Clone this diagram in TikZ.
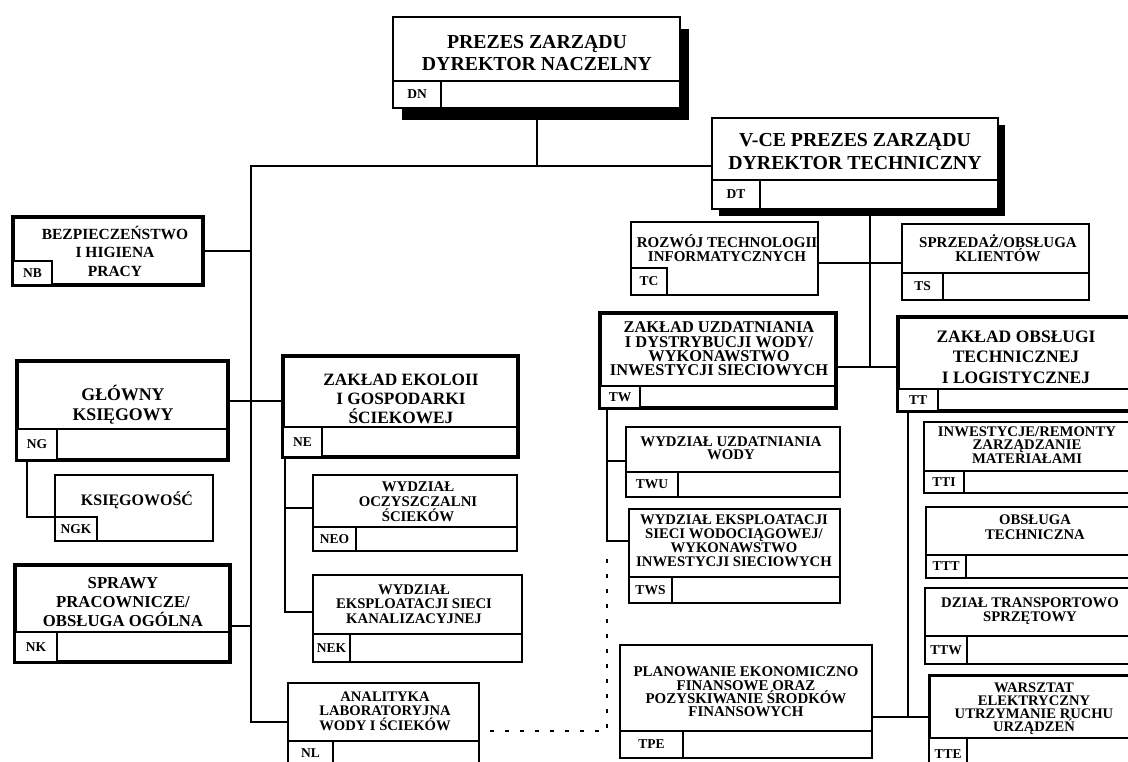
\documentclass[tikz,border=0pt]{standalone}
\usepackage{fontspec}
\setmainfont{Liberation Serif}
\usetikzlibrary{shadows}
\newcommand{\fsz}[2]{\fontsize{#1}{#2}\selectfont\bfseries}
\tikzset{
  unit/.style={draw, fill=white, anchor=north west, inner sep=0pt, outer sep=0pt},
  cell/.style={draw, fill=white, line width=2pt, anchor=south west, inner sep=0pt, outer sep=0pt, font=\fsz{13.5}{14}},
  sep/.style={line width=2pt},
  title/.style={align=center, inner sep=0pt},
  link/.style={line width=2pt},
  dots/.style={line width=2pt, dash pattern=on 4pt off 11pt, dash phase=4pt},
}
\begin{document}
\begin{tikzpicture}[x=1pt, y=-1pt]
  \fill[white] (0,0) rectangle (1128,761);
  \useasboundingbox (0,0) rectangle (1128,761);
  \clip (0,0) rectangle (1128,761);
  % boxes: name/left/top/width/height/border/cell height/cell width/code/full separator/shadow
  \foreach \n/\x/\y/\w/\h/\lw/\ch/\cw/\code/\full/\sx/\sy in {
    dn/393/17/287/91/2/27/48/DN/1/9/12,
    dt/712/118/286/91/2/29/48/DT/1/7/7,
    nb/13/217/190/68/4/24/39/NB/0/0/0,
    ng/17/361/211/99/4/31/40/NG/1/0/0,
    ngk/55/475/158/66/2/24/42/NGK/0/0/0,
    nk/15/565/215/97/4/30/42/NK/1/0/0,
    ne/283/356/235/101/4/30/39/NE/1/0/0,
    neo/313/475/204/76/2/24/43/NEO/1/0/0,
    nek/313/575/209/87/2/28/37/NEK/1/0/0,
    nl/288/683/191/82/2/24/45/NL/1/0/0,
    tc/631/222/187/73/2/27/36/TC/0/0/0,
    ts/902/224/187/76/2/27/41/TS/1/0/0,
    tw/600/313/236/95/4/22/40/TW/1/0/0,
    tt/898/317/240/94/4/22/40/TT/1/0/0,
    twu/626/427/214/70/2/25/52/TWU/1/0/0,
    tws/629/509/211/94/2/26/43/TWS/1/0/0,
    tti/924/422/216/71/2/22/40/TTI/1/0/0,
    ttt/926/507/214/71/2/23/40/TTT/1/0/0,
    ttw/925/588/215/76/2/28/42/TTW/1/0/0,
    tte/929/675/211/95/3/32/38/TTE/1/0/0,
    tpe/620/645/252/113/2/27/63/TPE/1/0/0} {
    \node[unit, line width=\lw pt, minimum width=\w pt, minimum height=\h pt,
      drop shadow={opacity=1, fill=black, shadow xshift=\sx pt, shadow yshift=-\sy pt}] (\n) at (\x,\y) {};
    \node[cell, minimum width=\cw pt, minimum height=\ch pt] (\n-c) at (\n.south west) {\code};
    \ifnum\full=1 \draw[sep] (\n-c.north west) -- (\n-c.north -| \n.east); \fi
  }
  % texts
  \node[title, font=\fsz{19.8}{21.5}] (dn-t) at (537,53) {PREZES ZARZĄDU\\DYREKTOR NACZELNY};
  \node[title, font=\fsz{19.8}{23}] (dt-t) at (855,152) {V-CE PREZES ZARZĄDU\\DYREKTOR TECHNICZNY};
  \node[title, font=\fsz{15.5}{18.5}] (nb-t) at (115,251) {BEZPIECZEŃSTWO\\I HIGIENA\\PRACY};
  \node[title, font=\fsz{17.8}{20}] (ng-t) at (123,405) {GŁÓWNY\\KSIĘGOWY};
  \node[title, font=\fsz{16}{18}] (ngk-t) at (137,500) {KSIĘGOWOŚĆ};
  \node[title, font=\fsz{16.7}{19}] (nk-t) at (123,602) {SPRAWY\\PRACOWNICZE/\\OBSŁUGA OGÓLNA};
  \node[title, font=\fsz{17.3}{19}] (ne-t) at (401,399) {ZAKŁAD EKOLOII\\I GOSPODARKI\\ŚCIEKOWEJ};
  \node[title, font=\fsz{14.8}{15}] (neo-t) at (418,502) {WYDZIAŁ\\OCZYSZCZALNI\\ŚCIEKÓW};
  \node[title, font=\fsz{14.7}{14.5}] (nek-t) at (414,604) {WYDZIAŁ\\EKSPLOATACJI SIECI\\KANALIZACYJNEJ};
  \node[title, font=\fsz{14.6}{14.5}] (nl-t) at (385,711) {ANALITYKA\\LABORATORYJNA\\WODY I ŚCIEKÓW};
  \node[title, font=\fsz{15}{14}] (tc-t) at (727,248) {ROZWÓJ TECHNOLOGII\\INFORMATYCZNYCH};
  \node[title, font=\fsz{15}{14}] (ts-t) at (998,248) {SPRZEDAŻ/OBSŁUGA\\KLIENTÓW};
  \node[title, font=\fsz{16.4}{14.4}] (tw-t) at (719,349) {ZAKŁAD UZDATNIANIA\\I DYSTRYBUCJI WODY/\\WYKONAWSTWO\\INWESTYCJI SIECIOWYCH};
  \node[title, font=\fsz{17.5}{20.5}] (tt-t) at (1016,357) {ZAKŁAD OBSŁUGI\\TECHNICZNEJ\\I LOGISTYCZNEJ};
  \node[title, font=\fsz{14.8}{13.5}] (twu-t) at (731,448) {WYDZIAŁ UZDATNIANIA\\WODY};
  \node[title, font=\fsz{14.7}{14}] (tws-t) at (734,541) {WYDZIAŁ EKSPLOATACJI\\SIECI WODOCIĄGOWEJ/\\WYKONAWSTWO\\INWESTYCJI SIECIOWYCH};
  \node[title, font=\fsz{14.7}{13.5}] (tti-t) at (1027,445) {INWESTYCJE/REMONTY\\ZARZĄDZANIE\\MATERIAŁAMI};
  \node[title, font=\fsz{14.7}{15}] (ttt-t) at (1035,527) {OBSŁUGA\\TECHNICZNA};
  \node[title, font=\fsz{14.7}{14}] (ttw-t) at (1030,611) {DZIAŁ TRANSPORTOWO\\SPRZĘTOWY};
  \node[title, font=\fsz{14.6}{12.9}] (tte-t) at (1034,709) {WARSZTAT\\ELEKTRYCZNY\\UTRZYMANIE RUCHU\\URZĄDZEŃ};
  \node[title, font=\fsz{14.9}{13.3}] (tpe-t) at (746,692) {PLANOWANIE EKONOMICZNO\\FINANSOWE ORAZ\\POZYSKIWANIE ŚRODKÓW\\FINANSOWYCH};
  % board trunk
  \coordinate (top) at (251,166);
  \draw[link] (dn.south) -- (dn.south |- top);
  \draw[link] (dt.west |- top) -- (top) -- (top |- 0,722) -- (nl.west |- 0,722);
  \draw[link] (nb.east) -- (nb.east -| top);
  \draw[link] (ng.east |- 0,401) -- (ne.west |- 0,401);
  \draw[link] (nk.east |- 0,626) -- (top |- 0,626);
  \draw[link] ([xshift=10pt]ng.south west) |- (ngk-c.north west);
  \coordinate (ebus) at ([xshift=2pt]ne.south west);
  \draw[link] (ebus) |- (nek.west |- 0,612);
  \draw[link] (ebus |- 0,508) -- (neo.west |- 0,508);
  % technical director
  \coordinate (tbus) at (870,367);
  \draw[link] (tbus |- dt.south) -- (tbus);
  \draw[link] (tc.east |- 0,263) -- (ts.west |- 0,263);
  \draw[link] (tw.east |- tbus) -- (tt.west |- tbus);
  \coordinate (wbus) at (607,541);
  \draw[link] (wbus |- tw.south) -- (wbus) -- (tws.west |- wbus);
  \draw[link] (wbus |- 0,461) -- (twu.west |- 0,461);
  \draw[dots] (nl.east |- 0,731) -| (wbus |- 0,552);
  \coordinate (obus) at (908,717);
  \draw[link] (obus |- tt.south) -- (obus);
  \draw[link] (tpe.east |- obus) -- (tte.west |- obus);
\end{tikzpicture}
\end{document}
